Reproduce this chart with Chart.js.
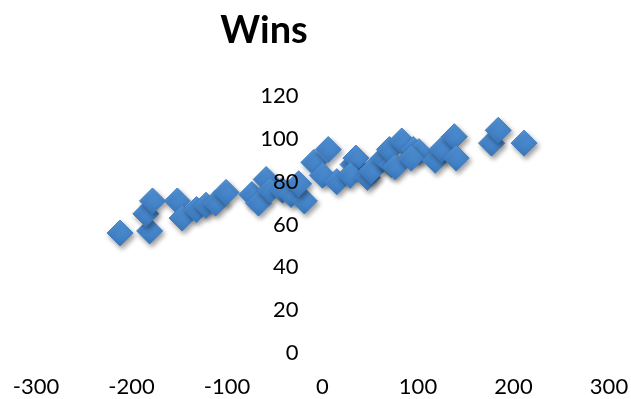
<!DOCTYPE html>
<html>
<head>
<meta charset="utf-8">
<script src="https://cdn.jsdelivr.net/npm/chart.js@4/dist/chart.umd.min.js"></script>
<style>
  html, body { margin: 0; padding: 0; background: #ffffff; }
  #wrap { width: 631px; height: 399px; position: relative; }
</style>
</head>
<body>
<div id="wrap"><canvas id="chart"></canvas></div>
<script>
// Run differential (x) against wins (y) for each team-season
const runDiff = [-212, -181, -185, -178, -152, -147, -132, -122, -112, -101,
                 -74, -67, -59, -55, -42, -33, -19, -25, -9, 6,
                 0, 15, 32, 35, 29, 47, 51, 64, 72, 70,
                 76, 83, 95, 101, 93, 118, 125, 138, 140, 177,
                 184, 211];
const wins = [56, 57, 65, 71, 71, 63, 67, 69, 70, 75,
              74, 70, 81, 76, 76, 74, 71, 79, 89, 95,
              83, 80, 88, 91, 83, 82, 85, 91, 88, 95,
              87, 99, 95, 94, 91, 90, 95, 101, 91, 98,
              104, 98];
const xTicks = [-300, -200, -100, 0, 100, 200, 300];
const yTicks = [0, 20, 40, 60, 80, 100, 120];
const chartTitle = 'Wins';

const points = runDiff.map((x, i) => ({ x: x, y: wins[i] }));

const FONT = "Lato, 'Open Sans', sans-serif";

// Soft drop shadow under the markers
const markerShadow = {
  id: 'markerShadow',
  beforeDatasetsDraw(chart) {
    const c = chart.ctx;
    c.save();
    c.shadowColor = 'rgba(0,0,0,0.38)';
    c.shadowBlur = 5;
    c.shadowOffsetX = 2;
    c.shadowOffsetY = 3;
  },
  afterDatasetsDraw(chart) {
    chart.ctx.restore();
  }
};

// The value axis crosses the horizontal axis at x = 0; its labels sit just left of it
const crossAtZero = {
  id: 'crossAtZero',
  afterLayout(chart) {
    const px = chart.scales.x.getPixelForValue(0);
    chart.scales.y.left = px - 90;
    chart.scales.y.right = px;
  }
};

// Heading, set slightly left of centre
const headline = {
  id: 'headline',
  afterDraw(chart) {
    const c = chart.ctx;
    c.save();
    c.font = "bold 38px " + FONT;
    c.fillStyle = '#000000';
    c.textAlign = 'center';
    c.textBaseline = 'alphabetic';
    c.fillText(chartTitle, 264, 43);
    c.restore();
  }
};

function markerFill(ctx) {
  const chart = ctx.chart;
  const p = ctx.parsed;
  if (!p || !chart.scales || !chart.scales.y) return '#4786cb';
  const py = chart.scales.y.getPixelForValue(p.y);
  if (!isFinite(py)) return '#4786cb';
  const g = chart.ctx.createLinearGradient(0, py - 13, 0, py + 13);
  g.addColorStop(0, '#5294da');
  g.addColorStop(1, '#3b79bd');
  return g;
}

new Chart(document.getElementById('chart'), {
  type: 'scatter',
  data: {
    datasets: [{
      label: chartTitle,
      data: points,
      pointStyle: 'rectRot',
      pointRadius: 13,
      pointHoverRadius: 13,
      pointBackgroundColor: markerFill,
      pointBorderColor: '#3f7dc2',
      pointBorderWidth: 1
    }]
  },
  options: {
    responsive: true,
    maintainAspectRatio: false,
    animation: false,
    layout: { padding: { left: 36, right: 22, top: 96, bottom: -21.6 } },
    plugins: {
      legend: { display: false },
      tooltip: { enabled: false },
      title: { display: false }
    },
    scales: {
      x: {
        type: 'linear',
        position: 'bottom',
        min: -300,
        max: 300,
        afterBuildTicks(scale) { scale.ticks = xTicks.map(v => ({ value: v })); },
        grid: { display: false, drawTicks: false },
        border: { display: false },
        ticks: {
          color: '#000000',
          padding: 0,
          maxRotation: 0,
          font: { family: FONT, size: 22, lineHeight: 3.07 }
        }
      },
      y: {
        type: 'linear',
        position: 'left',
        min: 0,
        max: 120,
        afterBuildTicks(scale) { scale.ticks = yTicks.map(v => ({ value: v })); },
        afterFit(scale) { scale.width = 0; },
        grid: { display: false, drawTicks: false },
        border: { display: false },
        ticks: {
          z: 1,
          color: '#000000',
          padding: 24,
          font: { family: FONT, size: 22, lineHeight: 1.2 }
        }
      }
    }
  },
  plugins: [markerShadow, crossAtZero, headline]
});
</script>
</body>
</html>
